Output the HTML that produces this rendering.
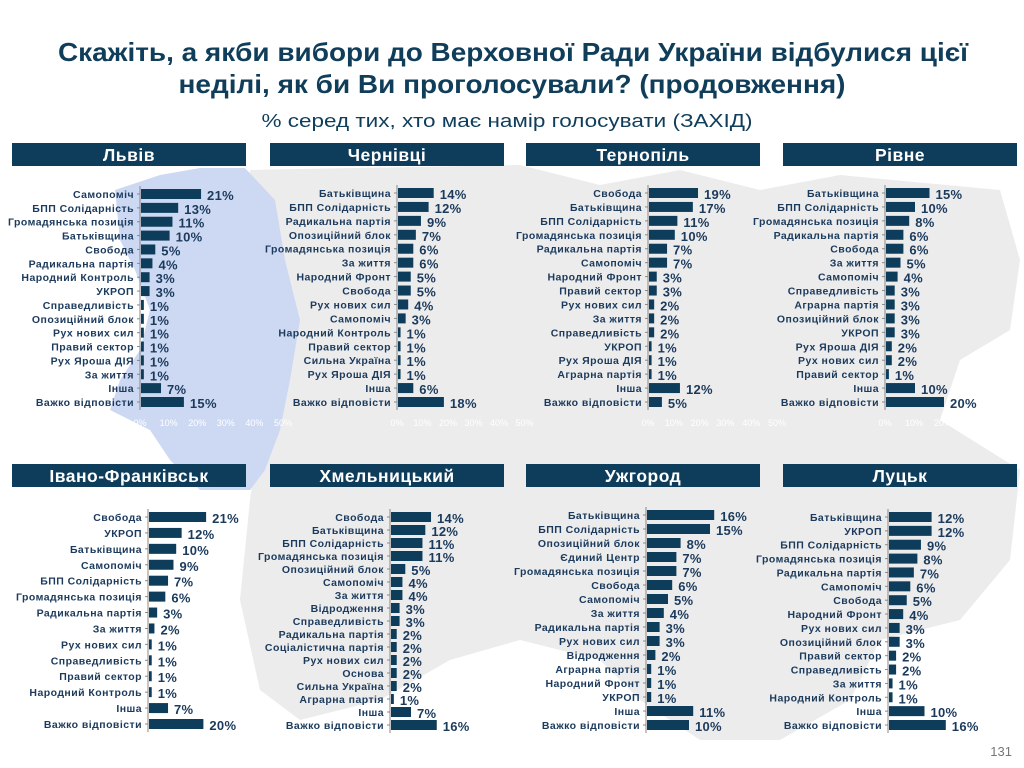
<!DOCTYPE html>
<html><head><meta charset="utf-8"><style>
body{margin:0;background:#fff;}
svg{display:block;font-family:"Liberation Sans","DejaVu Sans",sans-serif;}
</style></head><body>
<svg id="s" width="1024" height="768" viewBox="0 0 1024 768" xmlns="http://www.w3.org/2000/svg">
<path d="M250,170 L520,165 L600,185 L680,170 L760,190 L840,175 L1000,190 L1020,260 L1010,330 L960,360 L940,420 L1020,470 L1010,560 L960,620 L880,640 L850,700 L780,740 L700,740 L640,700 L600,660 L520,640 L450,660 L380,700 L300,720 L260,690 L240,600 L250,500 L260,420 Z" fill="#ececec"/>
<path d="M115,190 L160,175 L200,168 L245,168 L275,200 L285,260 L300,320 L290,380 L280,430 L265,470 L250,490 L200,490 L170,460 L150,430 L130,420 L110,410 L120,380 L140,350 L150,310 L135,270 L120,240 Z" fill="#cdd9f3"/>
<g id="g"></g>
<text x="513" y="61" text-anchor="middle" font-size="26" font-weight="bold" fill="#0f3d5a" textLength="910" lengthAdjust="spacingAndGlyphs">Скажіть, а якби вибори до Верховної Ради України відбулися цієї</text>
<text x="512" y="93" text-anchor="middle" font-size="26" font-weight="bold" fill="#0f3d5a" textLength="667" lengthAdjust="spacingAndGlyphs">неділі, як би Ви проголосували? (продовження)</text>
<text x="507" y="127" text-anchor="middle" font-size="18" fill="#0f3d5a" textLength="491" lengthAdjust="spacingAndGlyphs">% серед тих, хто має намір голосувати (ЗАХІД)</text>
<text x="1012" y="756" text-anchor="end" font-size="13" fill="#777">131</text>
</svg>
<script>
const P=[
{t:"Львів",hx:12,hy:143,ax:140,sc:2.86,y0:194,y1:402,tick:1,d:[["Самопоміч",21],["БПП Солідарність",13],["Громадянська позиція",11],["Батьківщина",10],["Свобода",5],["Радикальна партія",4],["Народний Контроль",3],["УКРОП",3],["Справедливість",1],["Опозиційний блок",1],["Рух нових сил",1],["Правий сектор",1],["Рух Яроша ДІЯ",1],["За життя",1],["Інша",7],["Важко відповісти",15]]},
{t:"Чернівці",hx:270,hy:143,ax:397,sc:2.55,y0:193,y1:402,tick:1,d:[["Батьківщина",14],["БПП Солідарність",12],["Радикальна партія",9],["Опозиційний блок",7],["Громадянська позиція",6],["За життя",6],["Народний Фронт",5],["Свобода",5],["Рух нових сил",4],["Самопоміч",3],["Народний Контроль",1],["Правий сектор",1],["Сильна Україна",1],["Рух Яроша ДІЯ",1],["Інша",6],["Важко відповісти",18]]},
{t:"Тернопіль",hx:526,hy:143,ax:648,sc:2.58,y0:193,y1:402,tick:1,d:[["Свобода",19],["Батьківщина",17],["БПП Солідарність",11],["Громадянська позиція",10],["Радикальна партія",7],["Самопоміч",7],["Народний Фронт",3],["Правий сектор",3],["Рух нових сил",2],["За життя",2],["Справедливість",2],["УКРОП",1],["Рух Яроша ДІЯ",1],["Аграрна партія",1],["Інша",12],["Важко відповісти",5]]},
{t:"Рівне",hx:783,hy:143,ax:885,sc:2.9,y0:193,y1:402,tick:1,d:[["Батьківщина",15],["БПП Солідарність",10],["Громадянська позиція",8],["Радикальна партія",6],["Свобода",6],["За життя",5],["Самопоміч",4],["Справедливість",3],["Аграрна партія",3],["Опозиційний блок",3],["УКРОП",3],["Рух Яроша ДІЯ",2],["Рух нових сил",2],["Правий сектор",1],["Інша",10],["Важко відповісти",20]]},
{t:"Івано-Франківськ",hx:12,hy:464,ax:148,sc:2.72,y0:517,y1:724,d:[["Свобода",21],["УКРОП",12],["Батьківщина",10],["Самопоміч",9],["БПП Солідарність",7],["Громадянська позиція",6],["Радикальна партія",3],["За життя",2],["Рух нових сил",1],["Справедливість",1],["Правий сектор",1],["Народний Контроль",1],["Інша",7],["Важко відповісти",20]]},
{t:"Хмельницький",hx:270,hy:464,ax:390,sc:2.86,y0:517,y1:725,d:[["Свобода",14],["Батьківщина",12],["БПП Солідарність",11],["Громадянська позиція",11],["Опозиційний блок",5],["Самопоміч",4],["За життя",4],["Відродження",3],["Справедливість",3],["Радикальна партія",2],["Соціалістична партія",2],["Рух нових сил",2],["Основа",2],["Сильна Україна",2],["Аграрна партія",1],["Інша",7],["Важко відповісти",16]]},
{t:"Ужгород",hx:526,hy:464,ax:646,sc:4.2,y0:515,y1:725,d:[["Батьківщина",16],["БПП Солідарність",15],["Опозиційний блок",8],["Єдиний Центр",7],["Громадянська позиція",7],["Свобода",6],["Самопоміч",5],["За життя",4],["Радикальна партія",3],["Рух нових сил",3],["Відродження",2],["Аграрна партія",1],["Народний Фронт",1],["УКРОП",1],["Інша",11],["Важко відповісти",10]]},
{t:"Луцьк",hx:783,hy:464,ax:888,sc:3.55,y0:517,y1:725,d:[["Батьківщина",12],["УКРОП",12],["БПП Солідарність",9],["Громадянська позиція",8],["Радикальна партія",7],["Самопоміч",6],["Свобода",5],["Народний Фронт",4],["Рух нових сил",3],["Опозиційний блок",3],["Правий сектор",2],["Справедливість",2],["За життя",1],["Народний Контроль",1],["Інша",10],["Важко відповісти",16]]}
];
let h='';
for(const p of P){
 h+=`<rect x="${p.hx}" y="${p.hy}" width="234" height="23" fill="#0e3d5c"/>`;
 h+=`<text x="${p.hx+117}" y="${p.hy+18}" text-anchor="middle" font-size="17.5" font-weight="bold" fill="#fff" letter-spacing="0.5">${p.t}</text>`;
 const n=p.d.length, st=(p.y1-p.y0)/(n-1);
 h+=`<line x1="${p.ax}" y1="${p.y0-8}" x2="${p.ax}" y2="${p.y1+8}" stroke="#888" stroke-width="1"/>`;
 p.d.forEach((r,i)=>{
  const y=p.y0+i*st, w=Math.max(r[1]*p.sc,2);
  h+=`<line x1="${p.ax-3}" y1="${y}" x2="${p.ax}" y2="${y}" stroke="#888"/>`;
  h+=`<rect x="${p.ax+1}" y="${y-5}" width="${w}" height="10" fill="#0e3d5c"/>`;
  h+=`<text x="${p.ax-6}" y="${y+4}" text-anchor="end" font-size="10.5" font-weight="bold" fill="#1b3a5c" letter-spacing="0.45">${r[0]}</text>`;
  h+=`<text x="${p.ax+w+7}" y="${y+6}" font-size="13" font-weight="bold" fill="#1b3a5c" letter-spacing="0.3">${r[1]}%</text>`;
 });
 if(p.tick){for(let k=0;k<=5;k++)h+=`<text x="${p.ax+k*10*p.sc}" y="${p.y1+24}" text-anchor="middle" font-size="9" fill="#fff">${k*10}%</text>`;}
}
document.getElementById('g').innerHTML=h;
</script>
</body></html>
